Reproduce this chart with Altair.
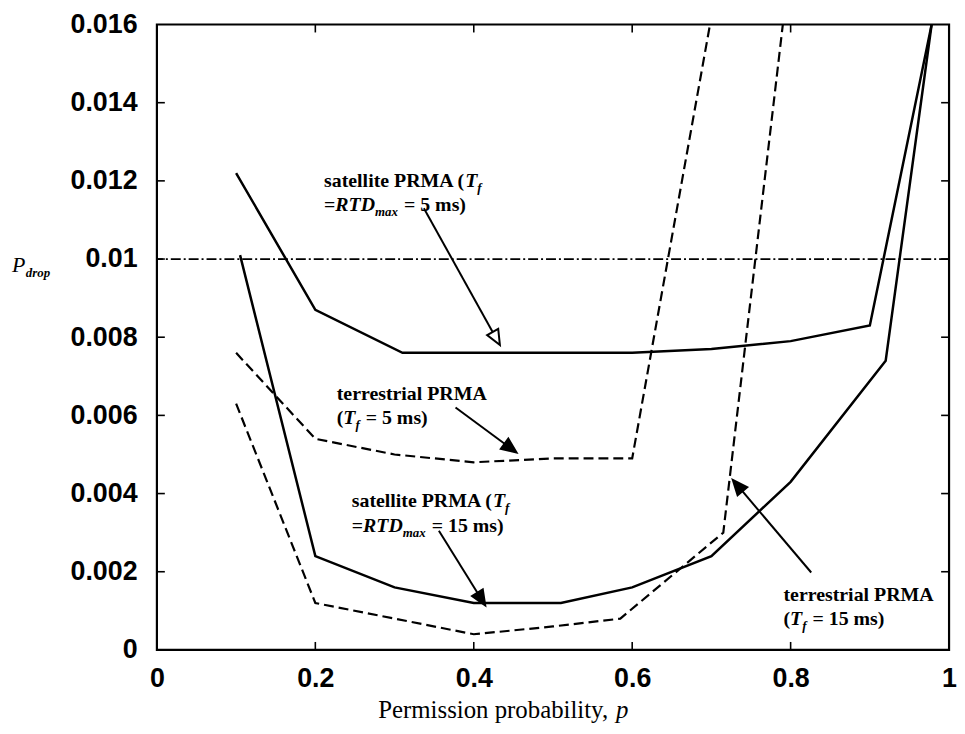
import math
import altair as alt
import pandas as pd

# ---------------- data ----------------
p_sat5 = [0.1, 0.2, 0.31, 0.4, 0.5, 0.6, 0.7, 0.8, 0.9, 0.978]
v_sat5 = [0.0122, 0.0087, 0.0076, 0.0076, 0.0076, 0.0076, 0.0077, 0.0079, 0.0083, 0.016]

p_sat15 = [0.105, 0.2, 0.3, 0.4, 0.51, 0.6, 0.7, 0.8, 0.92, 0.978]
v_sat15 = [0.0101, 0.0024, 0.0016, 0.0012, 0.0012, 0.0016, 0.0024, 0.0043, 0.0074, 0.016]

p_terr5 = [0.1, 0.2, 0.3, 0.4, 0.5, 0.6, 0.7]
v_terr5 = [0.0076, 0.0054, 0.0050, 0.0048, 0.0049, 0.0049, 0.0162]

p_terr15 = [0.1, 0.2, 0.3, 0.4, 0.5, 0.585, 0.715, 0.8]
v_terr15 = [0.0063, 0.0012, 0.0008, 0.0004, 0.0006, 0.0008, 0.0030, 0.0177]

threshold = [0.01]
x_tick_values = [0, 0.2, 0.4, 0.6, 0.8, 1]
y_tick_values = [0, 0.002, 0.004, 0.006, 0.008, 0.01, 0.012, 0.014, 0.016]
x_inner_ticks = [0.2, 0.4, 0.6, 0.8]
y_inner_ticks = [0.002, 0.004, 0.006, 0.008, 0.01, 0.012, 0.014]

# annotation anchors (data coords): left x, baseline of line 1, baseline of line 2
ann_sat5 = (0.211, 0.01184, 0.01123)
ann_terr5 = (0.227, 0.0064, 0.00577)
ann_sat15 = (0.246, 0.00366, 0.00302)
ann_terr15 = (0.791, 0.00124, 0.00064)

# arrows: (tail p, tail v, tip p, tip v, filled)
arrows = [
    (0.337, 0.0113, 0.433, 0.0078, False),
    (0.377, 0.0062, 0.454, 0.00505, True),
    (0.356, 0.00305, 0.4145, 0.00114, True),
    (0.826, 0.00198, 0.727, 0.00435, True),
]

# ---------------- layout ----------------
W, H = 798, 630
XMAX, YMAX = 1.0, 0.016
xs = alt.Scale(domain=[0, XMAX], nice=False, zero=False)
ys = alt.Scale(domain=[0, YMAX], nice=False, zero=False)
SERIF = "Liberation Serif"
SANS = "Liberation Sans"
LBL = 27

xaxis = alt.Axis(values=x_tick_values, labelExpr="format(datum.value, '~g')", title=None,
                 grid=False, ticks=False, domain=False, labelFont=SANS, labelFontSize=LBL,
                 labelFontWeight="bold", labelColor="black", labelPadding=16, labelFlush=False,
                 labelOverlap=False, labelBound=False)
yaxis = alt.Axis(values=y_tick_values, labelExpr="format(datum.value, '~g')", title=None,
                 grid=False, ticks=False, domain=False, labelFont=SANS, labelFontSize=LBL,
                 labelFontWeight="bold", labelColor="black", labelPadding=20, labelFlush=False,
                 labelOverlap=False, labelBound=False)


def X(field):
    return alt.X(field, scale=xs, axis=xaxis)


def Y(field):
    return alt.Y(field, scale=ys, axis=yaxis)


def to_px(p, v):
    return p / XMAX * W, H - v / YMAX * H


def to_data(x, y):
    return x / W * XMAX, (H - y) / H * YMAX


def series_df(name, ps, vs):
    return pd.DataFrame({"p": ps, "v": vs, "s": name})


solid_df = pd.concat([series_df("sat5", p_sat5, v_sat5), series_df("sat15", p_sat15, v_sat15)])
dash_df = pd.concat([series_df("terr5", p_terr5, v_terr5), series_df("terr15", p_terr15, v_terr15)])

solid = alt.Chart(solid_df).mark_line(color="black", strokeWidth=2.5, clip=True).encode(
    x=X("p:Q"), y=Y("v:Q"), detail="s:N")
dashed = alt.Chart(dash_df).mark_line(color="black", strokeWidth=2.2, strokeDash=[10, 5], clip=True).encode(
    x=X("p:Q"), y=Y("v:Q"), detail="s:N")
thr = alt.Chart(pd.DataFrame({"v": threshold})).mark_rule(
    color="black", strokeWidth=1.8, strokeDash=[10, 3, 2, 3]).encode(y=Y("v:Q"))

# inward ticks on all four sides
xt = pd.DataFrame({"p": x_inner_ticks})
yt = pd.DataFrame({"v": y_inner_ticks})
TL = 8
tick_layers = [
    alt.Chart(xt).mark_rule(color="black", strokeWidth=1.6).encode(
        x=X("p:Q"), y=alt.value(H), y2=alt.value(H - TL)),
    alt.Chart(xt).mark_rule(color="black", strokeWidth=1.6).encode(
        x=X("p:Q"), y=alt.value(0), y2=alt.value(TL)),
    alt.Chart(yt).mark_rule(color="black", strokeWidth=1.6).encode(
        y=Y("v:Q"), x=alt.value(0), x2=alt.value(TL)),
    alt.Chart(yt).mark_rule(color="black", strokeWidth=1.6).encode(
        y=Y("v:Q"), x=alt.value(W), x2=alt.value(W - TL)),
]

# --------------- rich text helpers ---------------
BOLD = {' ': 250, '(': 333, ')': 333, '=': 570, '1': 500, '5': 500, 'A': 722, 'M': 944,
        'P': 611, 'R': 722, 'a': 500, 'e': 444, 'i': 278, 'l': 278, 'm': 833, 'n': 556,
        'r': 444, 's': 389, 't': 333, 'T': 667, 'D': 722, 'f': 333, 'x': 500}
BOLDIT = {'T': 611, 'R': 667, 'D': 722, 'f': 333, 'm': 778, 'a': 500, 'x': 500}
REG = {'P': 556, 'e': 444, 'r': 333, 'm': 778, 'i': 278, 's': 389, 'o': 500, 'n': 500,
       ' ': 250, 'p': 500, 'b': 500, 'a': 444, 'l': 278, 't': 278, 'y': 500, ',': 250}

FS, SUB = 20, 13
SUB_GAP = 6


def text_width(t, table, size):
    return sum(table.get(c, 500) for c in t) / 1000 * size


def seg_layer(x, y, t, dx, dy, size, italic, bold):
    df = pd.DataFrame({"x": [x], "y": [y], "t": [t]})
    return alt.Chart(df).mark_text(
        align="left", baseline="alphabetic", dx=dx, dy=dy, font=SERIF, fontSize=size,
        fontStyle="italic" if italic else "normal", fontWeight="bold" if bold else "normal",
        color="black").encode(x=X("x:Q"), y=Y("y:Q"), text="t:N")


def rich_line(x, y, parts):
    layers, off = [], 0.0
    for t, kind in parts:
        if kind == "n":
            layers.append(seg_layer(x, y, t, off, 0, FS, False, True))
            off += text_width(t, BOLD, FS)
        elif kind == "i":
            layers.append(seg_layer(x, y, t, off, 0, FS, True, True))
            off += text_width(t, BOLDIT, FS)
        else:  # subscript
            layers.append(seg_layer(x, y, t, off, 5, SUB, True, True))
            off += text_width(t, BOLDIT, SUB) + SUB_GAP
    return layers


texts = []
a = ann_sat5
texts += rich_line(a[0], a[1], [("satellite PRMA (", "n"), ("T", "i"), ("f", "s")])
texts += rich_line(a[0], a[2], [("=", "n"), ("RTD", "i"), ("max", "s"), ("= 5 ms)", "n")])
a = ann_terr5
texts += rich_line(a[0], a[1], [("terrestrial PRMA", "n")])
texts += rich_line(a[0], a[2], [("(", "n"), ("T", "i"), ("f", "s"), ("= 5 ms)", "n")])
a = ann_sat15
texts += rich_line(a[0], a[1], [("satellite PRMA (", "n"), ("T", "i"), ("f", "s")])
texts += rich_line(a[0], a[2], [("=", "n"), ("RTD", "i"), ("max", "s"), ("= 15 ms)", "n")])
a = ann_terr15
texts += rich_line(a[0], a[1], [("terrestrial PRMA", "n")])
texts += rich_line(a[0], a[2], [("(", "n"), ("T", "i"), ("f", "s"), ("= 15 ms)", "n")])

# --------------- arrows ---------------
HEAD = 15
HEAD_SHAPE = "M0,-1L0.85,1L-0.85,1Z"
arrow_layers = []
for tp, tv, hp, hv, filled in arrows:
    x0, y0 = to_px(tp, tv)
    x1, y1 = to_px(hp, hv)
    L = math.hypot(x1 - x0, y1 - y0)
    ux, uy = (x1 - x0) / L, (y1 - y0) / L
    ang = math.degrees(math.atan2(ux, -uy)) % 360
    back = HEAD * (0.85 if not filled else 0.6)
    ex, ey = to_data(x1 - back * ux, y1 - back * uy)
    cx, cy = to_data(x1 - HEAD / 2 * ux, y1 - HEAD / 2 * uy)
    seg = pd.DataFrame({"p": [tp], "v": [tv], "p2": [ex], "v2": [ey]})
    arrow_layers.append(alt.Chart(seg).mark_rule(color="black", strokeWidth=2).encode(
        x=X("p:Q"), y=Y("v:Q"), x2="p2:Q", y2="v2:Q"))
    head = pd.DataFrame({"p": [cx], "v": [cy]})
    arrow_layers.append(alt.Chart(head).mark_point(
        shape=HEAD_SHAPE, size=HEAD * HEAD, angle=ang, filled=filled,
        fill="black" if filled else "white", stroke="black", strokeWidth=2, opacity=1).encode(
        x=X("p:Q"), y=Y("v:Q")))

# --------------- axis titles as text ---------------
one = pd.DataFrame({"a": [0]})
ytitle = [
    alt.Chart(one).mark_text(align="left", baseline="alphabetic", font=SERIF, fontSize=22,
                             fontStyle="italic", color="black").encode(
        x=alt.value(-146), y=alt.value(249), text=alt.value("P")),
    alt.Chart(one).mark_text(align="left", baseline="alphabetic", font=SERIF, fontSize=13,
                             fontStyle="italic", fontWeight="bold", color="black", dx=14, dy=5).encode(
        x=alt.value(-146), y=alt.value(249), text=alt.value("drop")),
]
XT_SIZE = 25
xt_main = "Permission probability, "
xtitle = [
    alt.Chart(one).mark_text(align="left", baseline="alphabetic", font=SERIF, fontSize=XT_SIZE,
                             color="black").encode(
        x=alt.value(223), y=alt.value(699), text=alt.value(xt_main)),
    alt.Chart(one).mark_text(align="left", baseline="alphabetic", font=SERIF, fontSize=XT_SIZE,
                             fontStyle="italic", color="black",
                             dx=text_width(xt_main, REG, XT_SIZE)).encode(
        x=alt.value(223), y=alt.value(699), text=alt.value("p")),
]

chart = alt.layer(solid, dashed, thr, *tick_layers, *texts, *arrow_layers, *ytitle, *xtitle).properties(
    width=W, height=H,
    background="white",
    autosize=alt.AutoSizeParams(type="none"),
    padding={"left": 150, "top": 14, "right": 8, "bottom": 72},
).configure_view(stroke="black", strokeWidth=2.2)

chart.save("out.html", embed_options={"renderer": "svg", "actions": False})
